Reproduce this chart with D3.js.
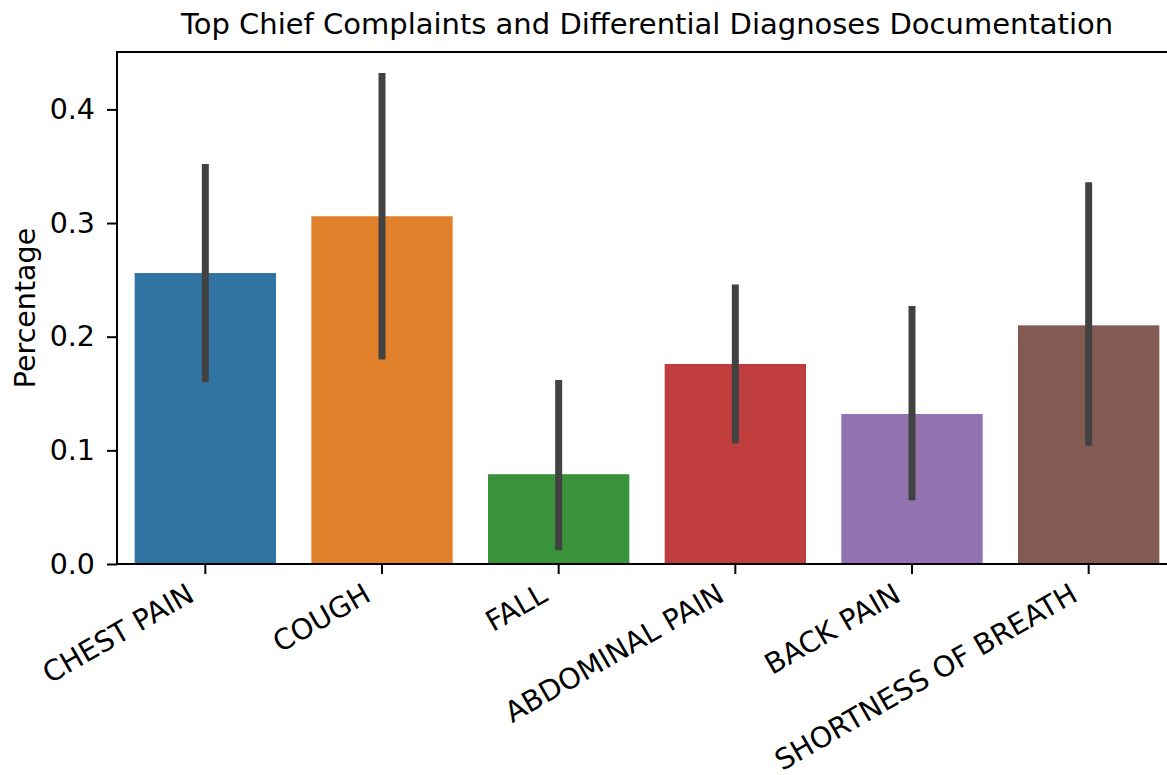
<!DOCTYPE html>
<html>
<head>
<meta charset="utf-8">
<script src="https://cdn.jsdelivr.net/npm/d3@7"></script>
<style>
  html, body { margin: 0; padding: 0; background: #fff; }
  svg { display: block; }
  svg text { font-family: "DejaVu Sans", sans-serif; }
</style>
</head>
<body>
<svg id="chart" width="1167" height="775"></svg>
<script>
// Share of visits with differential diagnoses documented, per chief complaint
const categories = ["CHEST PAIN", "COUGH", "FALL", "ABDOMINAL PAIN", "BACK PAIN", "SHORTNESS OF BREATH"];
const means = [0.256, 0.306, 0.079, 0.176, 0.132, 0.210];
const ciLow = [0.160, 0.180, 0.012, 0.106, 0.056, 0.104];
const ciHigh = [0.352, 0.432, 0.162, 0.246, 0.227, 0.336];
const colors = ["#3274a1", "#e1812c", "#3a923a", "#c03d3e", "#9372b2", "#845b53"];
const yTicks = [0.0, 0.1, 0.2, 0.3, 0.4];
const titleText = "Top Chief Complaints and Differential Diagnoses Documentation";
const yLabel = "Percentage";

const svg = d3.select("#chart");
const plot = { left: 117, right: 1177, top: 52, bottom: 564 };
const FONT = "DejaVu Sans";
const fs = 28.5;

const x = d3.scaleBand()
  .domain(categories)
  .range([plot.left, plot.right])
  .paddingInner(0.2)
  .paddingOuter(0.1);

const y = d3.scaleLinear()
  .domain([0, 0.4505])
  .range([plot.bottom, plot.top]);

const data = categories.map((c, i) => ({ c, m: means[i], lo: ciLow[i], hi: ciHigh[i], col: colors[i] }));

// bars
svg.append("g").selectAll("rect").data(data).join("rect")
  .attr("x", d => x(d.c))
  .attr("width", x.bandwidth())
  .attr("y", d => y(d.m))
  .attr("height", d => y(0) - y(d.m))
  .attr("fill", d => d.col);

// confidence interval lines
svg.append("g").selectAll("line").data(data).join("line")
  .attr("x1", d => x(d.c) + x.bandwidth() / 2)
  .attr("x2", d => x(d.c) + x.bandwidth() / 2)
  .attr("y1", d => y(d.lo))
  .attr("y2", d => y(d.hi))
  .attr("stroke", "#424242")
  .attr("stroke-width", 7);

// y axis
const yAxis = svg.append("g")
  .attr("transform", `translate(${plot.left},0)`)
  .call(d3.axisLeft(y).tickValues(yTicks).tickFormat(d3.format(".1f")).tickSize(10).tickPadding(12));
yAxis.attr("font-family", FONT).attr("font-size", fs);
yAxis.select(".domain").remove();
yAxis.selectAll(".tick line").attr("stroke", "#000").attr("stroke-width", 2);
yAxis.selectAll(".tick text").attr("fill", "#000");

// x axis
const xAxis = svg.append("g")
  .attr("transform", `translate(0,${plot.bottom})`)
  .call(d3.axisBottom(x).tickSize(10).tickFormat(""));
xAxis.attr("font-family", FONT).attr("font-size", fs);
xAxis.select(".domain").remove();
xAxis.selectAll(".tick line").attr("stroke", "#000").attr("stroke-width", 2);

// rotated category labels, right edge tucked under each tick
const asc = 0.76 * fs, desc = 0.24 * fs;
const ang = 30 * Math.PI / 180;
xAxis.selectAll(".tick").each(function(d) {
  const g = d3.select(this);
  const ax = -6 - desc * Math.sin(ang);
  const ay = 17 + asc * Math.cos(ang);
  g.append("text")
    .attr("transform", `translate(${ax},${ay}) rotate(-30)`)
    .attr("text-anchor", "end")
    .attr("fill", "#000")
    .text(d);
});

// spines: left, top, bottom
const spines = svg.append("g").attr("stroke", "#000").attr("stroke-width", 2).attr("fill", "none");
spines.append("line").attr("x1", plot.left).attr("x2", plot.left).attr("y1", plot.top).attr("y2", plot.bottom + 1);
spines.append("line").attr("x1", plot.left - 1).attr("x2", plot.right).attr("y1", plot.top).attr("y2", plot.top);
spines.append("line").attr("x1", plot.left - 1).attr("x2", plot.right).attr("y1", plot.bottom).attr("y2", plot.bottom);

// title
svg.append("text")
  .attr("x", (plot.left + plot.right) / 2)
  .attr("y", 34)
  .attr("text-anchor", "middle")
  .attr("font-family", FONT)
  .attr("font-size", 29)
  .attr("fill", "#000")
  .text(titleText);

// y label
svg.append("text")
  .attr("transform", `translate(35,${(plot.top + plot.bottom) / 2}) rotate(-90)`)
  .attr("text-anchor", "middle")
  .attr("font-family", FONT)
  .attr("font-size", fs)
  .attr("fill", "#000")
  .text(yLabel);
</script>
</body>
</html>
